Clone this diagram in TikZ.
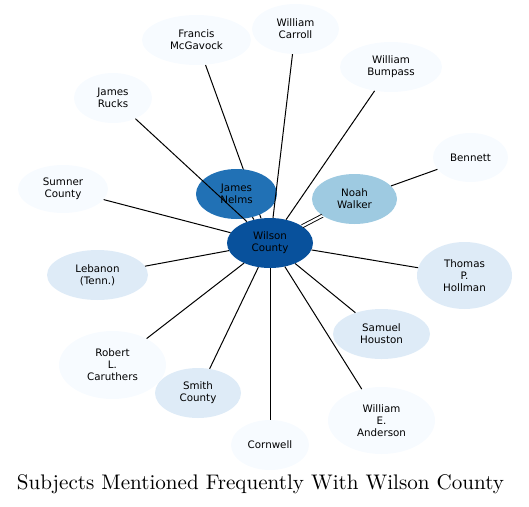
\documentclass[tikz,border=0pt]{standalone}
\usepackage{fontspec}
\newfontfamily\nodefont{DejaVu Sans}
\newfontfamily\titlefont{lmroman10-regular.otf}
\usetikzlibrary{shapes.geometric,backgrounds}
\definecolor{cdark}{HTML}{08519C}
\definecolor{cmid}{HTML}{2171B5}
\definecolor{clight}{HTML}{9ECAE1}
\definecolor{cpale}{HTML}{DEEBF7}
\definecolor{cwhite}{HTML}{F7FBFF}
\tikzset{
  subj/.style={ellipse, inner sep=0pt, align=center, text=black,
    font=\nodefont\fontsize{10.3}{12}\selectfont},
  sz/.style 2 args={minimum width=#1pt, minimum height=#2pt},
  link/.style={draw=black, line width=1pt},
  duallink/.style={draw=black, line width=0.9pt, double=white, double distance=2.2pt},
}
\begin{document}
\begin{tikzpicture}[x=1pt,y=-1pt]
\useasboundingbox (0,0) rectangle (529,506);
\node[subj, fill=cdark, sz={86}{50}] (wc) at (270,243) {Wilson\\County};
\node[subj, fill=cmid, sz={81}{50}] (jn) at (236.5,194) {James\\Nelms};
\node[subj, fill=clight, sz={85}{50}] (nw) at (354.5,199) {Noah\\Walker};
\node[subj, fill=cwhite, sz={109}{50}] (fm) at (196.5,40) {Francis\\McGavock};
\node[subj, fill=cwhite, sz={87}{50}] (wca) at (295.5,29) {William\\Carroll};
\node[subj, fill=cwhite, sz={102}{50}] (wb) at (391,67) {William\\Bumpass};
\node[subj, fill=cwhite, sz={78}{50}] (jr) at (113,98) {James\\Rucks};
\node[subj, fill=cwhite, sz={75}{49}] (be) at (470.5,157.5) {Bennett};
\node[subj, fill=cwhite, sz={90}{48}] (sc) at (63,189) {Sumner\\County};
\node[subj, fill=cpale, sz={101}{50}] (lt) at (97.5,275) {Lebanon\\(Tenn.)};
\node[subj, fill=cpale, sz={95}{67}] (th) at (464.5,275.5) {Thomas\\P.\\Hollman};
\node[subj, fill=cpale, sz={97}{50}] (sh) at (381.5,334) {Samuel\\Houston};
\node[subj, fill=cwhite, sz={107}{68}] (rc) at (112.5,365) {Robert\\L.\\Caruthers};
\node[subj, fill=cpale, sz={86}{50}] (smc) at (198,393) {Smith\\County};
\node[subj, fill=cwhite, sz={107}{67}] (wa) at (381.5,420.5) {William\\E.\\Anderson};
\node[subj, fill=cwhite, sz={78}{50}] (co) at (270,445) {Cornwell};
\node[font=\titlefont\fontsize{21.1}{24}\selectfont] (title) at (260.5,484.5) {Subjects Mentioned Frequently With Wilson County};
\begin{scope}[on background layer]
\draw[link] (fm) -- (wc);
\end{scope}
\draw[link] (wca) -- (wc);
\draw[link] (wb) -- (wc);
\draw[link] (jr) -- (wc);
\draw[link] (jn) -- (wc);
\draw[link] (be) -- (nw);
\draw[duallink] (nw) -- (wc);
\draw[link] (sc) -- (wc);
\draw[link] (lt) -- (wc);
\draw[link] (th) -- (wc);
\draw[link] (sh) -- (wc);
\draw[link] (rc) -- (wc);
\draw[link] (smc) -- (wc);
\draw[link] (wa) -- (wc);
\draw[link] (co) -- (wc);
\end{tikzpicture}
\end{document}
